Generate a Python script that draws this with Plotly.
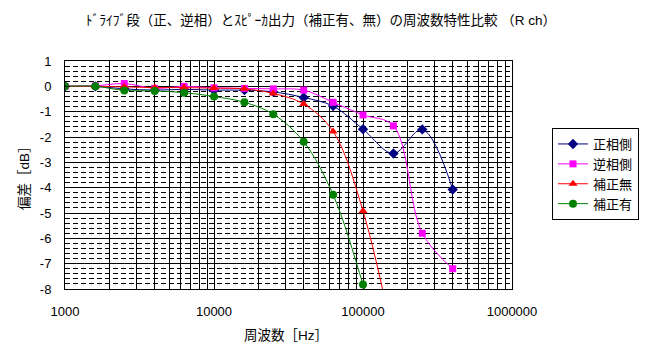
import plotly.graph_objects as go

freq = [1000, 1600, 2500, 4000, 6300, 10000, 16000, 25000, 40000, 63000, 100000, 160000, 250000, 400000]

seihaso = [0, 0, -0.1, -0.15, -0.12, -0.15, -0.15, -0.22, -0.44, -0.78, -1.69, -2.65, -1.7, -4.07]
gyakuso = [0, 0.02, 0.11, -0.08, 0, -0.06, -0.08, -0.1, -0.15, -0.63, -1.13, -1.56, -5.8, -7.2]
hosei_nashi = [0, 0, -0.02, -0.05, -0.05, -0.07, -0.1, -0.28, -0.7, -1.78, -4.92, -10]
hosei_ari = [0, 0, -0.16, -0.18, -0.25, -0.4, -0.63, -1.1, -2.19, -4.28, -7.82, -12]

series = [
    ("正相側", seihaso, "#000080", "diamond", 8),
    ("逆相側", gyakuso, "#FF00FF", "square", 7),
    ("補正無", hosei_nashi, "#FF0000", "triangle-up", 8),
    ("補正有", hosei_ari, "#008000", "circle", 8),
]

x_grid = [m * 10 ** e for e in (3, 4, 5) for m in range(1, 10)] + [10 ** 6]
x_text = [str(v) if str(v).startswith("1") and set(str(v)[1:]) <= {"0"} else "" for v in x_grid]
y_ticks = [1, 0, -1, -2, -3, -4, -5, -6, -7, -8]
y_text = [str(v) for v in y_ticks]

FONT = "Liberation Sans, Arial, Noto Sans CJK JP, sans-serif"

# page body has an 8px margin; figure is laid out in its own coordinates
W, H = 639, 348
L, R, T, B = 57, 135, 53, 67
PW = W - L - R
PH = H - T - B

fig = go.Figure()
for name, vals, color, sym, size in series:
    fig.add_trace(go.Scatter(
        x=freq[:len(vals)], y=vals, name=name, mode="lines+markers",
        line=dict(color=color, width=1, shape="spline", smoothing=1),
        marker=dict(symbol=sym, size=size, color=color),
        cliponaxis=True,
    ))

fig.update_layout(
    width=W, height=H,
    margin=dict(l=L, r=R, t=T, b=B),
    paper_bgcolor="white", plot_bgcolor="white",
    font=dict(family=FONT, size=13, color="black"),
    title=dict(text="ﾄﾞﾗｲﾌﾞ段（正、逆相）とｽﾋﾟｰｶ出力（補正有、無）の周波数特性比較 （R ch）",
               x=313 / W, xref="container", xanchor="center",
               y=1 - 12 / H, yref="container", yanchor="middle",
               font=dict(family=FONT, size=13.5, color="black")),
    legend=dict(xref="container", yref="container", x=544 / W, y=1 - 120 / H,
                xanchor="left", yanchor="top", bordercolor="black", borderwidth=1,
                bgcolor="white", font=dict(family=FONT, size=13), tracegroupgap=0,
                itemwidth=30),
    showlegend=True,
)

fig.update_xaxes(
    type="log", range=[3, 6],
    tickmode="array", tickvals=x_grid, ticktext=x_text,
    showgrid=True, gridcolor="black", gridwidth=1,
    showline=True, linecolor="black", linewidth=1, mirror=True,
    ticks="", zeroline=False, ticklabelstandoff=10,
    tickfont=dict(family=FONT, size=13),
)
fig.update_yaxes(
    range=[-8, 1],
    tickmode="array", tickvals=y_ticks, ticktext=y_text,
    showgrid=True, gridcolor="black", gridwidth=1,
    showline=True, linecolor="black", linewidth=1, mirror=True,
    ticks="inside", ticklen=5, tickcolor="black", zeroline=False,
    ticklabelstandoff=10,
    tickfont=dict(family=FONT, size=13),
    minor=dict(tickmode="linear", tick0=0, dtick=0.2, showgrid=True,
               gridcolor="black", gridwidth=1, griddash="5px,3px",
               ticks="inside", ticklen=3, tickcolor="black"),
)

fig.add_annotation(text="周波数［Hz］", xref="paper", yref="paper",
                   x=(278 - L) / PW, y=(281 - 327) / PH,
                   xanchor="center", yanchor="middle", showarrow=False,
                   font=dict(family=FONT, size=13.5))
fig.add_annotation(text="偏差［dB］", xref="paper", yref="paper",
                   x=(16 - L) / PW, y=0.5, textangle=-90,
                   xanchor="center", yanchor="middle", showarrow=False,
                   font=dict(family=FONT, size=13.5))

fig.write_html("out.html")
